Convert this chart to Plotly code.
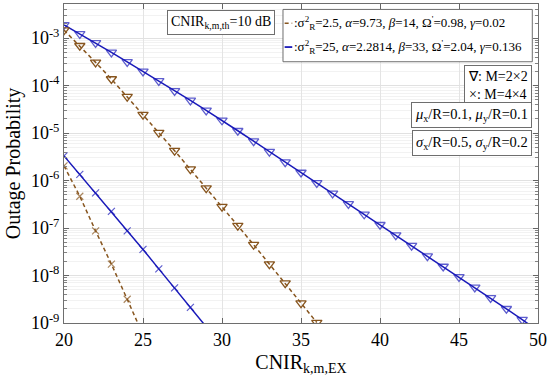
import plotly.graph_objects as go

# ---- data (log10 of outage probability) ----
x_blue_tri = list(range(20, 51))
logp_blue_tri = [-2.72, -2.91, -3.10, -3.30, -3.50, -3.70, -3.90, -4.11, -4.31, -4.52,
                 -4.73, -4.95, -5.17, -5.39, -5.61, -5.83, -6.05, -6.27, -6.49, -6.71,
                 -6.93, -7.15, -7.37, -7.59, -7.81, -8.03, -8.25, -8.47, -8.70, -8.93,
                 -9.16]
x_brown_tri = list(range(20, 37))
logp_brown_tri = [-2.83, -3.16, -3.51, -3.86, -4.23, -4.61, -4.99, -5.37, -5.76, -6.16,
                  -6.55, -6.95, -7.35, -7.76, -8.16, -8.58, -8.99]
x_blue_x = list(range(20, 30))
logp_blue_x = [-5.48, -5.87, -6.26, -6.65, -7.06, -7.45, -7.86, -8.26, -8.67, -9.08]
x_brown_x = list(range(20, 26))
logp_brown_x = [-5.69, -6.33, -7.06, -7.76, -8.50, -9.25]

y_tick_exp = [-9, -8, -7, -6, -5, -4, -3]
x_ticks = [20, 25, 30, 35, 40, 45, 50]

legend_labels = [
    ":σ<sup>2</sup><sub>R</sub>=2.5, <i>α</i>=9.73, <i>β</i>=14, Ω<sup>'</sup>=0.98, <i>γ</i>=0.02",
    ":σ<sup>2</sup><sub>R</sub>=25, <i>α</i>=2.2814, <i>β</i>=33, Ω<sup>'</sup>=2.04, <i>γ</i>=0.136",
]

BLUE = "rgb(25,25,185)"
BROWN = "rgb(135,85,30)"
FONT = "Liberation Serif"
FRAME = "rgb(110,110,110)"
DASH = "4px,3px"

def vals(lp):
    return [10 ** v for v in lp]

fig = go.Figure()

fig.add_trace(go.Scatter(x=x_blue_tri, y=vals(logp_blue_tri), mode="lines+markers",
                         line=dict(color=BLUE, width=1.5),
                         marker=dict(symbol="triangle-down-open", size=[9] * 30 + [0],
                                     color=BLUE, line=dict(width=1.3)),
                         showlegend=False))
fig.add_trace(go.Scatter(x=x_brown_tri, y=vals(logp_brown_tri), mode="lines+markers",
                         line=dict(color=BROWN, width=1.5, dash=DASH),
                         marker=dict(symbol="triangle-down-open", size=9,
                                     color=BROWN, line=dict(width=1.3)),
                         showlegend=False))
fig.add_trace(go.Scatter(x=x_blue_x, y=vals(logp_blue_x), mode="lines+markers",
                         line=dict(color=BLUE, width=1.5),
                         marker=dict(symbol="x-thin-open", size=[7] * 9 + [0],
                                     color=BLUE, line=dict(width=1.2, color=BLUE)),
                         showlegend=False))
fig.add_trace(go.Scatter(x=x_brown_x, y=vals(logp_brown_x), mode="lines+markers",
                         line=dict(color=BROWN, width=1.5, dash=DASH),
                         marker=dict(symbol="x-thin-open", size=[7] * 5 + [0],
                                     color=BROWN, line=dict(width=1.2, color=BROWN)),
                         showlegend=False))

minor_vals = [k * 10 ** e for e in range(-10, -1) for k in range(2, 10)]

fig.update_layout(
    width=550, height=390,
    margin=dict(l=64, r=12, t=4, b=67),
    paper_bgcolor="white", plot_bgcolor="white",
    font=dict(family=FONT, color="black"),
    showlegend=False,
    xaxis=dict(range=[20, 50], tickvals=x_ticks, ticks="inside", ticklen=5,
               tickcolor="rgb(100,100,100)",
               showline=True, linecolor=FRAME, mirror="ticks",
               showgrid=True, gridcolor="rgb(228,228,228)", zeroline=False,
               tickfont=dict(family=FONT, size=18),
               title=dict(text="CNIR<sub>k,m,EX</sub>", font=dict(family=FONT, size=20),
                          standoff=6)),
    yaxis=dict(type="log", range=[-9, -2.28],
               tickvals=[10 ** e for e in y_tick_exp],
               ticktext=["10<sup>%d</sup>" % e for e in y_tick_exp],
               ticks="inside", ticklen=5, tickcolor="rgb(100,100,100)",
               showline=True, linecolor=FRAME, mirror="ticks",
               showgrid=True, gridcolor="rgb(225,225,225)", zeroline=False,
               tickfont=dict(family=FONT, size=18),
               minor=dict(tickvals=minor_vals, ticks="inside", ticklen=3,
                          tickcolor="rgb(130,130,130)",
                          showgrid=True, gridcolor="rgb(242,242,242)"),
               title=dict(text="Outage Probability", font=dict(family=FONT, size=20),
                          standoff=4)),
)

# ---- manual legend box (matches the reference's short line samples) ----
fig.add_shape(type="rect", xref="paper", yref="paper", x0=0.462, x1=0.988,
              y0=0.819, y1=0.983, line=dict(color=FRAME, width=1), fillcolor="white",
              layer="above")
leg_rows_y = [0.940, 0.865]
leg_styles = [dict(color=BROWN, width=1.5, dash=DASH), dict(color=BLUE, width=1.8)]
for ly, lbl, st in zip(leg_rows_y, legend_labels, leg_styles):
    fig.add_shape(type="line", xref="paper", yref="paper", x0=0.4655, x1=0.4815,
                  y0=ly, y1=ly, line=st, layer="above")
    fig.add_annotation(text=lbl, x=0.482, y=ly, xref="paper", yref="paper",
                       xanchor="left", yanchor="middle", showarrow=False,
                       font=dict(family=FONT, size=13))

def box(text, x, y, size=14, xanchor="left", yanchor="top"):
    fig.add_annotation(text=text, x=x, y=y, xref="paper", yref="paper",
                       xanchor=xanchor, yanchor=yanchor, showarrow=False,
                       align="left", font=dict(family=FONT, size=size),
                       bordercolor=FRAME, borderwidth=1, borderpad=3,
                       bgcolor="white")

box("CNIR<sub>k,m,th</sub>=10 dB", 0.218, 0.9825, size=14)
box("∇: M=2×2<br>×: M=4×4", 0.988, 0.809, size=14, xanchor="right")
box("<i>μ</i><sub>x</sub>/R=0.1, <i>μ</i><sub>y</sub>/R=0.1", 0.988, 0.694, size=14.5, xanchor="right")
box("<i>σ</i><sub>x</sub>/R=0.5, <i>σ</i><sub>y</sub>/R=0.2", 0.988, 0.605, size=14.5, xanchor="right")

fig.write_html("out.html", config={"displayModeBar": False},
               post_script="document.body.style.margin='0';document.body.style.overflow='hidden';")
